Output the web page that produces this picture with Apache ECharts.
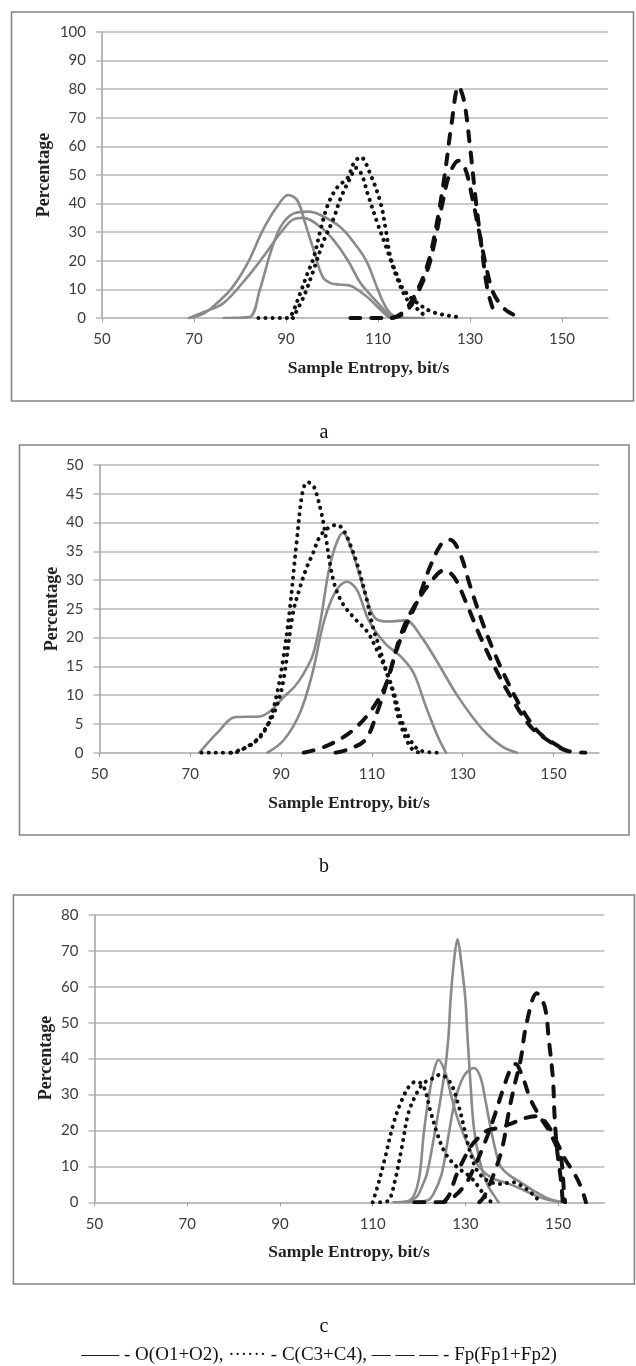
<!DOCTYPE html>
<html>
<head>
<meta charset="utf-8">
<script src="https://cdn.jsdelivr.net/npm/echarts@6/dist/echarts.min.js"></script>
<style>
html,body{margin:0;padding:0;background:#fff;}
#chart{width:636px;height:1366px;}
</style>
</head>
<body>
<div id="chart"></div>
<script>
// ---------- data ----------
const xTickLabels = [50, 70, 90, 110, 130, 150];
const panelNames = ['a', 'b', 'c'];
const seriesNames = ['O(O1+O2)', 'C(C3+C4)', 'Fp(Fp1+Fp2)'];
const yMaxes = [100, 50, 80];
const yIntervals = [10, 5, 10];

// Panel a
const a_O1 = [[69,0],[72,1.5],[74,3.8],[78,10],[81.6,19],[85,30.8],[88,38.8],[90.5,43],[92.5,41],[94.2,33],[96,23.8],[98,14.3],[99.7,12.2],[101.5,11.7],[103.4,11.5],[104.7,10.8],[107.7,7.3],[110.6,2.8],[112.5,0]];
const a_O2 = [[69,0],[72,2],[76.4,5.2],[81.6,14.3],[85,21.3],[88.8,29.7],[91.6,34.5],[93.8,35],[97.5,31.8],[100.3,27.3],[103.4,20.3],[106.2,12.2],[110,5.2],[113,0]];
const a_O3 = [[76.5,0],[82,0.3],[84.3,9.8],[86.6,22.7],[88.8,31.8],[91.6,36.5],[94.9,37.2],[97.5,36],[101.8,31.8],[105.5,24.8],[107.7,19.2],[110,9.8],[112.1,2.8],[114.3,0.2],[120,0]];
const a_C1 = [[84,0],[90,0],[91,0.5],[93.1,8.7],[94.7,15.7],[96,21],[97.5,30.8],[99.2,40],[101.2,45.8],[103.4,49],[104.7,54],[106.2,56.3],[108.4,50],[110.6,40],[111.7,30.8],[112.7,21.3],[114.3,14.3],[115.6,9.8],[118.6,5.2],[122,2],[127.3,0.3],[128,0]];
const a_C2 = [[91.5,0],[93.8,7.3],[96,16.8],[98.2,27],[100.4,35],[101.9,42],[104,49],[105.3,52.5],[106.5,50],[107.7,43.7],[109.9,33],[112,23.8],[114.3,13.3],[116.4,6.3],[118.8,2.8],[120.7,0]];
const a_Fp1 = [[104,0],[112,0],[114,0.5],[116,3],[118,8],[120,15],[121.5,23],[123,35],[124.5,50],[126,68],[127.5,81],[128.7,76],[130,60],[131.2,42],[132.5,25],[133.8,10],[135,3],[135.6,0]];
const a_Fp2 = [[113,0],[115,1],[117,4],[119,10],[121,18],[122.5,28],[124,40],[125.5,50],[127.5,55],[129,52],[130.5,42],[132,30],[133.5,18],[135,9],[137,4],[138.5,2],[141,0]];

// Panel b
const b_O1 = [[72,0],[76,3.5],[80,6.2],[85.3,6.3],[88,7.5],[90.6,9.7],[93,11.5],[95,13.8],[97,17],[98.7,23],[100.4,31.2],[102,36],[103.6,38.2],[105.8,34.6],[108.5,27.7],[110.7,23.4],[113.8,22.8],[117.4,23],[121,20],[124.6,15.5],[129,9.7],[134.4,4],[138.8,1],[142,0]];
const b_O2 = [[87,0],[90.6,2.2],[94.2,7],[96.9,13.8],[99.5,23],[102.2,28.3],[104.5,29.7],[106.7,28.3],[109.3,23],[112.9,19],[116.5,16.6],[119.2,13.8],[121.9,8],[124.5,2.8],[126.3,0]];
const b_C1 = [[72.5,0],[79.4,0],[82.4,1],[85.4,2.7],[87.5,5.7],[89.1,10.3],[90.4,16],[91.9,24.8],[93.4,36.4],[94.8,45.6],[95.9,47],[97,46.5],[97.8,45],[98.9,41.6],[99.6,38.7],[101.5,30],[103.5,26],[106,23.5],[109,21],[111,18],[113,14.5],[115,10],[116.5,5.7],[119,1.5],[121,0.3],[125,0]];
const b_C2 = [[79,0],[81,0.5],[83.8,1.6],[86.8,4.5],[89,8],[90.5,12.5],[92.6,24.2],[94.2,28.8],[95.7,32.3],[97,34.6],[98.5,37.5],[100.3,39],[102.3,39.6],[103.8,38.6],[105.1,36.4],[106.7,32.9],[108.9,26.5],[110.2,21.9],[111.6,18.4],[113.3,13.8],[114.7,10.3],[115.8,6.2],[117.5,2.5],[119,0.5],[120.5,0]];
const b_Fp1 = [[95,0],[99.5,1],[105,3.4],[109.4,6.9],[112.9,11.5],[115.2,17.3],[117.4,21.9],[120.1,26.5],[122.8,32.3],[125.4,36.4],[127.2,37],[129.4,34.6],[131.7,28.8],[134.4,22.5],[137,17.3],[139.7,12.6],[143.2,7.4],[146.9,3.4],[151.3,1],[153,0]];
const b_Fp2 = [[102,0],[104.5,0.5],[108.5,2.2],[111.1,6.9],[113.9,13.8],[116.5,20.8],[119.2,25.3],[122.8,29.5],[125.9,31.7],[128.1,30.5],[130.8,26],[133.5,20.8],[137,14.9],[140.6,9.7],[145,4.5],[149.6,1.7],[153.1,0.3],[157,0]];

// Panel c
const c_O1 = [[114.5,0],[117.5,0.3],[119.5,1.5],[120.5,4],[121.7,8],[123.1,17.3],[124.6,28.5],[125.7,37.9],[126.4,47.2],[126.8,56.5],[127.6,68],[128.3,73.2],[129,68],[130,56.5],[130.4,47.2],[131.1,33],[131.8,21],[132.9,12.6],[134.7,5.1],[136.9,0.5],[137.2,0]];
const c_O2 = [[115,0],[118,0.5],[119.9,6],[121,19],[122,28.5],[123.1,36],[124.2,39.7],[125.7,36],[126.8,30.4],[128.2,23.8],[130.4,16.4],[132.5,10.7],[135.4,7],[138.3,5.6],[141.2,4.2],[144.1,2.5],[147,1],[151,0]];
const c_O3 = [[117,0],[121.7,0.5],[123.1,2.3],[124.9,8],[126.4,19],[127.8,28.5],[129.6,35],[131.8,37.4],[133.2,35],[134.3,28.5],[135.4,21],[136.5,14.5],[137.6,10],[139.5,7.5],[142,5.5],[145,3],[148,1],[151,0]];
const c_C1 = [[110,0],[111.2,5.1],[112.7,12.6],[114.5,22],[116.3,28.5],[118.1,32.7],[119.5,33.6],[121,32.2],[122.4,25.7],[123.9,19.2],[125.7,13.6],[128.2,9.8],[131.1,7],[132.9,4.2],[134.7,0.8],[136,0]];
const c_C2 = [[111.6,0],[113.4,0.5],[114.8,6],[116.3,15.4],[117.7,24.8],[119.5,30.4],[121,33.2],[122.4,34.1],[124.6,35.5],[126.8,33.2],[128.6,26.6],[130,19.2],[131.1,13.6],[132.5,8.9],[134.7,6.1],[137.6,5.1],[140.1,5.6],[142.6,4.2],[145.2,1.4],[146,0]];
const c_Fp1 = [[133,0],[134,1.5],[136.2,8.1],[138,15.4],[139.3,24.8],[140.5,32.1],[141.9,39.6],[143.2,49.9],[145.4,58.2],[147.1,54.5],[148,45.2],[148.9,34],[149.2,24.8],[149.7,15.5],[150.6,6.2],[151,0]];
const c_Fp2 = [[119,0],[125,0],[127,1],[130,5],[132,10],[134,16],[136,23],[138,31],[139.7,37],[140.8,38.5],[142.3,35],[144.1,28.5],[146,24],[148,20],[149.5,16],[150.6,12.6],[151.3,2.3],[151.5,0]];
const c_Fp3 = [[125.3,0],[126.5,2],[128.2,8],[131.1,15.4],[132.9,18.1],[134.7,20],[137.5,20.8],[140,22],[143,23.5],[145.5,24],[148,21],[150,16],[151.5,12],[153.5,8],[155,4],[156,0]];

const panelSeries = [
  {O: [a_O1, a_O2, a_O3], C: [a_C1, a_C2], F: [a_Fp1, a_Fp2]},
  {O: [b_O1, b_O2], C: [b_C1, b_C2], F: [b_Fp1, b_Fp2]},
  {O: [c_O1, c_O2, c_O3], C: [c_C1, c_C2], F: [c_Fp1, c_Fp2, c_Fp3]}
];

// ---------- layout ----------
const grids = [
  {left: 102, right: 28, top: 32, height: 286},
  {left: 99.4, right: 37, top: 465, height: 287.7},
  {left: 94.5, right: 31.5, top: 915, height: 287.3}
];
const boxes = [
  {x: 11.5, y: 12, w: 622, h: 389},
  {x: 19.5, y: 445, w: 609.5, h: 390},
  {x: 13.4, y: 895, w: 621, h: 389}
];
const yTitlePos = [[44.6, 175], [52, 609], [46.7, 1058]];
const xTitlePos = [[368.5, 368], [349, 803], [349, 1252]];
const panelLabelPos = [[324, 433], [324, 867], [324, 1327]];

const labelFont = 'Lato';
const gridColor = '#b9b9b9';
const axisColor = '#a0a0a0';

const styles = {
  O: {color: '#8a8a8a', width: 2.6, type: 'solid', cap: 'round', join: 'round'},
  C: {color: '#111111', width: 4, type: [0.1, 7], cap: 'round', join: 'round'},
  F: {color: '#111111', width: 4, type: [10, 11], cap: 'round', join: 'round'}
};
const groupName = {O: seriesNames[0], C: seriesNames[1], F: seriesNames[2]};

const xAxes = [], yAxes = [], series = [];
for (let i = 0; i < 3; i++) {
  xAxes.push({
    type: 'value', gridIndex: i, min: 50, max: 160,
    axisLine: {show: true, onZero: false, lineStyle: {color: gridColor, width: 1.5}},
    axisTick: {show: true, length: 4, customValues: xTickLabels, lineStyle: {color: axisColor, width: 1}},
    axisLabel: {show: true, customValues: xTickLabels, margin: 14, color: '#3c3c3c', fontFamily: labelFont, fontSize: 15},
    splitLine: {show: false}
  });
  yAxes.push({
    type: 'value', gridIndex: i, min: 0, max: yMaxes[i], interval: yIntervals[i],
    axisLine: {show: true, lineStyle: {color: axisColor, width: 1.5}},
    axisTick: {show: true, length: 6, lineStyle: {color: gridColor, width: 1.5}},
    axisLabel: {margin: 16, color: '#3c3c3c', fontFamily: labelFont, fontSize: 15},
    splitLine: {show: true, lineStyle: {color: gridColor, width: 1.5}}
  });
  ['O', 'C', 'F'].forEach(function (g) {
    panelSeries[i][g].forEach(function (d) {
      series.push({
        type: 'line', name: groupName[g], xAxisIndex: i, yAxisIndex: i,
        data: d, smooth: 0.35, symbol: 'none', silent: true, animation: false,
        lineStyle: styles[g], z: g === 'O' ? 2 : 3
      });
    });
  });
}

const graphics = [];
for (let i = 0; i < 3; i++) {
  const b = boxes[i];
  graphics.push({type: 'rect', shape: {x: b.x, y: b.y, width: b.w, height: b.h}, style: {fill: 'none', stroke: '#858585', lineWidth: 1.6}, z: -10});
  graphics.push({type: 'text', x: yTitlePos[i][0], y: yTitlePos[i][1], rotation: Math.PI / 2,
    style: {text: 'Percentage', font: 'bold 18px "Liberation Serif", "Times New Roman", serif', fill: '#222', align: 'center', verticalAlign: 'middle'}});
  graphics.push({type: 'text', x: xTitlePos[i][0], y: xTitlePos[i][1],
    style: {text: 'Sample Entropy, bit/s', font: 'bold 17.5px "Liberation Serif", "Times New Roman", serif', fill: '#222', align: 'center', verticalAlign: 'middle'}});
  graphics.push({type: 'text', x: panelLabelPos[i][0], y: panelLabelPos[i][1],
    style: {text: panelNames[i], font: '20px "Liberation Serif", "Times New Roman", serif', fill: '#111', align: 'center', verticalAlign: 'middle'}});
}
graphics.push({type: 'text', x: 319, y: 1355,
  style: {text: '—— - ' + seriesNames[0] + ', ······ - ' + seriesNames[1] + ', — — — - ' + seriesNames[2],
    font: '19px "Liberation Serif", "Times New Roman", serif', fill: '#111', align: 'center', verticalAlign: 'middle'}});

const chart = echarts.init(document.getElementById('chart'), null, {renderer: 'canvas'});
chart.setOption({
  animation: false,
  backgroundColor: '#ffffff',
  grid: grids,
  xAxis: xAxes,
  yAxis: yAxes,
  series: series,
  graphic: graphics
});
</script>
</body>
</html>
